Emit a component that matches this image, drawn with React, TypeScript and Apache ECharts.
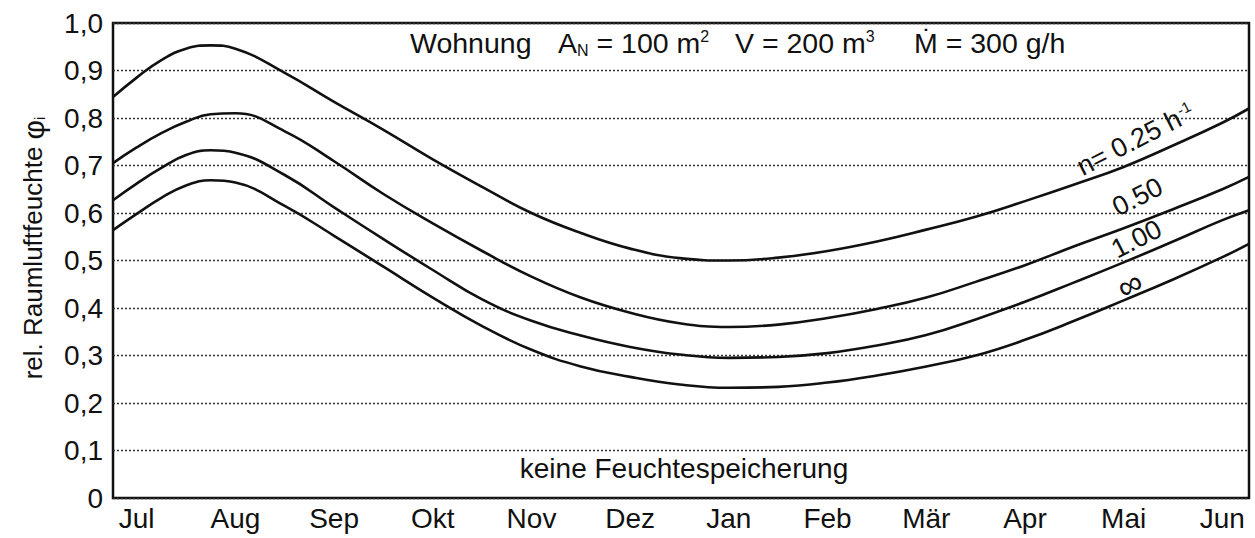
import React, { useEffect, useRef } from "react";
import * as echarts from "echarts";

// Month labels (label i sits at x = i)
const months = ["Jul", "Aug", "Sep", "Okt", "Nov", "Dez", "Jan", "Feb", "Mär", "Apr", "Mai", "Jun"];
const monthTicks = [0, 1, 2, 3, 4, 5, 6, 7, 8, 9, 10, 11];

// x positions (in month-label units) at which the curves were read
const xPos = [-0.24, 0, 0.25, 0.5, 0.75, 1, 1.5, 2, 2.5, 3, 3.5, 4, 4.5, 5, 5.5, 6, 6.5, 7, 7.5, 8, 8.5, 9, 9.5, 10, 10.5, 11, 11.27];

// rel. Raumluftfeuchte for the four air-change rates
const n025 = [0.844, 0.885, 0.922, 0.946, 0.953, 0.946, 0.895, 0.834, 0.775, 0.713, 0.655, 0.600, 0.558, 0.525, 0.505, 0.500, 0.506, 0.52, 0.54, 0.565, 0.592, 0.625, 0.66, 0.697, 0.742, 0.79, 0.82];
const n050 = [0.705, 0.738, 0.768, 0.792, 0.808, 0.810, 0.772, 0.709, 0.640, 0.578, 0.52, 0.466, 0.422, 0.39, 0.368, 0.36, 0.365, 0.379, 0.398, 0.422, 0.455, 0.49, 0.53, 0.568, 0.608, 0.65, 0.676];
const n100 = [0.627, 0.662, 0.695, 0.722, 0.732, 0.727, 0.68, 0.612, 0.545, 0.48, 0.418, 0.373, 0.342, 0.318, 0.302, 0.295, 0.297, 0.305, 0.321, 0.343, 0.376, 0.413, 0.454, 0.496, 0.54, 0.585, 0.606];
const nInf = [0.564, 0.598, 0.632, 0.658, 0.669, 0.664, 0.615, 0.552, 0.487, 0.422, 0.362, 0.312, 0.277, 0.255, 0.239, 0.232, 0.234, 0.243, 0.258, 0.277, 0.30, 0.333, 0.373, 0.416, 0.46, 0.507, 0.535];

// curve labels: [text, x, y]
const curveLabels: [string, number, number][] = [
  ["{a|n= 0.25 h}{s|-1}", 10.12, 0.755],
  ["{a|0.50}", 10.14, 0.634],
  ["{a|1.00}", 10.13, 0.545],
  ["{b|∞}", 10.06, 0.45],
];

// title pieces: [rich text, left x]
const titleParts: [string, number][] = [
  ["{a|Wohnung}", 410],
  ["{a|A}{sub|N}{a| = 100 m}{sup|2}", 558],
  ["{a|V = 200 m}{sup|3}", 735],
  ["{a|Ṁ = 300 g/h}", 914],
];

const FONT = "'Liberation Sans', Arial, Helvetica, sans-serif";

export default function App() {
  const ref = useRef<HTMLDivElement>(null);
  useEffect(() => {
    document.body.style.margin = "0";
    if (!ref.current) return;
    const chart = echarts.init(ref.current, undefined, { renderer: "svg" });
    const seriesVals = [n025, n050, n100, nInf];
    const series: any[] = seriesVals.map((vals, si) => ({
      type: "line",
      data: xPos.map((x, i) => [x, vals[i]]),
      smooth: 0.45,
      showSymbol: false,
      lineStyle: { color: "#111", width: 2.6 },
      markPoint:
        si === 0
          ? {
              symbol: "circle",
              symbolSize: 0,
              data: curveLabels.map(([t, x, y]) => ({
                coord: [x, y],
                label: {
                  show: true,
                  position: "inside",
                  formatter: t,
                  rotate: 27,
                  rich: {
                    a: { fontSize: 27, fontFamily: FONT, color: "#111" },
                    b: { fontSize: 34, fontFamily: FONT, color: "#111" },
                    s: { fontSize: 15, fontFamily: FONT, color: "#111", verticalAlign: "top", padding: [0, 0, 12, 1] },
                  },
                },
              })),
            }
          : undefined,
    }));

    const titleRich = {
      a: { fontSize: 28.5, fontFamily: FONT, fill: "#111" },
      sub: { fontSize: 16, fontFamily: FONT, fill: "#111", padding: [15, 0, 0, 0] },
      sup: { fontSize: 16, fontFamily: FONT, fill: "#111", padding: [0, 0, 13, 0] },
    };

    chart.setOption({
      animation: false,
      backgroundColor: "#fff",
      grid: {
        left: 113,
        right: 6,
        top: 23,
        bottom: 40,
        show: true,
        borderColor: "#111",
        borderWidth: 2.5,
      },
      xAxis: {
        type: "value",
        min: -0.24,
        max: 11.27,
        axisLine: { show: false },
        axisTick: { show: false },
        splitLine: { show: false },
        axisLabel: {
          customValues: monthTicks,
          formatter: (v: number) => months[Math.round(v)],
          fontSize: 28,
          fontFamily: FONT,
          color: "#111",
          margin: 6,
        },
      },
      yAxis: {
        type: "value",
        min: 0,
        max: 1,
        interval: 0.1,
        axisLine: { show: false },
        axisTick: { show: false },
        splitLine: {
          show: true,
          lineStyle: { type: [2, 2], color: "#333", width: 1.3 },
        },
        axisLabel: {
          formatter: (v: number) => (v === 0 ? "0" : v.toFixed(1).replace(".", ",")),
          fontSize: 28,
          fontFamily: FONT,
          color: "#111",
          margin: 10,
        },
      },
      graphic: [
        {
          type: "text",
          x: 33,
          y: 248,
          rotation: Math.PI / 2,
          style: {
            text: "{a|rel. Raumluftfeuchte }{b|φ}{c|i}",
            align: "center",
            verticalAlign: "middle",
            rich: {
              a: { fontSize: 26, fontFamily: FONT, fill: "#111" },
              b: { fontSize: 30, fontFamily: FONT, fill: "#111" },
              c: { fontSize: 15, fontFamily: FONT, fill: "#111", padding: [12, 0, 0, 0] },
            },
          },
        },
        ...titleParts.map(([t, x]) => ({
          type: "text",
          x,
          y: 43,
          style: {
            text: t,
            align: "left",
            verticalAlign: "middle",
            rich: titleRich,
          },
        })),
        {
          type: "text",
          x: 684,
          y: 468,
          style: {
            text: "keine Feuchtespeicherung",
            align: "center",
            verticalAlign: "middle",
            fontSize: 28,
            fontFamily: FONT,
            fill: "#111",
          },
        },
      ],
      series,
    });
    return () => chart.dispose();
  }, []);
  return <div ref={ref} style={{ width: 1255, height: 538 }} />;
}
